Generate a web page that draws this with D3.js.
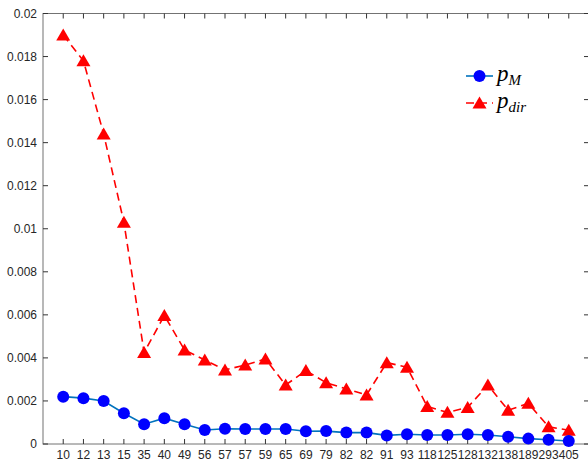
<!DOCTYPE html>
<html>
<head>
<meta charset="utf-8">
<script src="https://cdn.jsdelivr.net/npm/d3@7"></script>
<style>
  body { margin: 0; background: #fff; }
  svg { display: block; }
</style>
</head>
<body>
<svg id="chart" width="588" height="461"></svg>
<script>
const categories = ["10","12","13","15","35","40","49","56","57","57","59","65","69","79","82","82","91","93","118","125","128","132","138","189","293","405"];
const pM = [0.0022,0.00213,0.002,0.00143,0.00092,0.0012,0.00092,0.00065,0.00071,0.0007,0.0007,0.0007,0.00059,0.0006,0.00053,0.00053,0.0004,0.00045,0.00042,0.00042,0.00045,0.00042,0.00034,0.00025,0.0002,0.00014];
const pDir = [0.019,0.0178,0.0144,0.0103,0.00425,0.00597,0.00437,0.0039,0.00344,0.00367,0.00395,0.00274,0.00341,0.00285,0.00256,0.00228,0.00378,0.00357,0.00174,0.00147,0.0017,0.00274,0.00157,0.00189,0.0008,0.00064];
const yTicks = [0,0.002,0.004,0.006,0.008,0.01,0.012,0.014,0.016,0.018,0.02];

const svg = d3.select("#chart");
const plotLeft = 43, plotRight = 589, plotTop = 13.5, plotBottom = 444;

// categories repeat (57, 82), so the x scale runs on position 1..26
const x = d3.scaleLinear().domain([0, categories.length + 1]).range([plotLeft, plotRight]);
const y = d3.scaleLinear().domain([0, 0.02]).range([plotBottom, plotTop]);

const axisColor = "#737373";
const textColor = "#262626";
const font = "'Liberation Sans', Arial, sans-serif";
const mathFont = "'Liberation Serif', 'DejaVu Serif', serif";

// box
svg.append("rect")
  .attr("x", plotLeft).attr("y", plotTop)
  .attr("width", plotRight - plotLeft).attr("height", plotBottom - plotTop)
  .attr("fill", "none").attr("stroke", axisColor).attr("stroke-width", 1);

const idx = d3.range(1, categories.length + 1);

// x ticks (inward, bottom and top)
const xg = svg.append("g");
xg.selectAll("line.b").data(idx).join("line").attr("class", "b")
  .attr("x1", d => x(d)).attr("x2", d => x(d))
  .attr("y1", plotBottom).attr("y2", plotBottom - 5)
  .attr("stroke", "#333");
xg.selectAll("line.t").data(idx).join("line").attr("class", "t")
  .attr("x1", d => x(d)).attr("x2", d => x(d))
  .attr("y1", plotTop).attr("y2", plotTop + 5)
  .attr("stroke", "#333");
xg.selectAll("text").data(idx).join("text")
  .attr("x", d => x(d)).attr("y", plotBottom + 14.5)
  .attr("text-anchor", "middle")
  .attr("font-family", font).attr("font-size", 12)
  .attr("fill", textColor)
  .text(d => categories[d - 1]);

// y ticks (inward, left and right)
const yg = svg.append("g");
yg.selectAll("line.l").data(yTicks).join("line").attr("class", "l")
  .attr("x1", plotLeft).attr("x2", plotLeft + 5)
  .attr("y1", d => y(d)).attr("y2", d => y(d))
  .attr("stroke", "#333");
yg.selectAll("line.r").data(yTicks).join("line").attr("class", "r")
  .attr("x1", plotRight - 5).attr("x2", plotRight)
  .attr("y1", d => y(d)).attr("y2", d => y(d))
  .attr("stroke", "#333");
yg.selectAll("text").data(yTicks).join("text")
  .attr("x", plotLeft - 6).attr("y", d => y(d) + 4)
  .attr("text-anchor", "end")
  .attr("font-family", font).attr("font-size", 12)
  .attr("fill", textColor)
  .text(d => d === 0 ? "0" : String(+d.toFixed(3)));

const line = d3.line().x((d, i) => x(i + 1)).y(d => y(d));

// p_dir: red dashed with triangles
svg.append("path").datum(pDir)
  .attr("d", line)
  .attr("fill", "none").attr("stroke", "#ff0000")
  .attr("stroke-width", 1.6).attr("stroke-dasharray", "8,5");

const tri = (cx, cy) => `M${cx},${cy - 6.5}L${cx + 7},${cy + 5.5}L${cx - 7},${cy + 5.5}Z`;
svg.append("g").selectAll("path").data(pDir).join("path")
  .attr("d", (d, i) => tri(x(i + 1), y(d)))
  .attr("fill", "#ff0000");

// p_M: blue solid with dots
svg.append("path").datum(pM)
  .attr("d", line)
  .attr("fill", "none").attr("stroke", "#0072bd")
  .attr("stroke-width", 1.6);

svg.append("g").selectAll("circle").data(pM).join("circle")
  .attr("cx", (d, i) => x(i + 1)).attr("cy", d => y(d))
  .attr("r", 6).attr("fill", "#0000ff");

// legend
const lg = svg.append("g").attr("transform", "translate(466,76)");
lg.append("line").attr("x1", 0).attr("x2", 27).attr("y1", 0).attr("y2", 0)
  .attr("stroke", "#0072bd").attr("stroke-width", 1.6);
lg.append("circle").attr("cx", 13.5).attr("cy", 0).attr("r", 6).attr("fill", "#0000ff");
const t1 = lg.append("text").attr("x", 31).attr("y", 5)
  .attr("font-family", mathFont)
  .attr("font-style", "italic").attr("font-size", 23).attr("fill", "#000");
t1.append("tspan").text("p");
t1.append("tspan").attr("dy", 4).attr("font-size", 15).text("M");

lg.append("line").attr("x1", 0).attr("x2", 27).attr("y1", 27).attr("y2", 27)
  .attr("stroke", "#ff0000").attr("stroke-width", 1.6).attr("stroke-dasharray", "8,5");
lg.append("path").attr("d", tri(13.5, 27)).attr("fill", "#ff0000");
const t2 = lg.append("text").attr("x", 31).attr("y", 32)
  .attr("font-family", mathFont)
  .attr("font-style", "italic").attr("font-size", 23).attr("fill", "#000");
t2.append("tspan").text("p");
t2.append("tspan").attr("dy", 4).attr("font-size", 15).text("dir");
</script>
</body>
</html>
